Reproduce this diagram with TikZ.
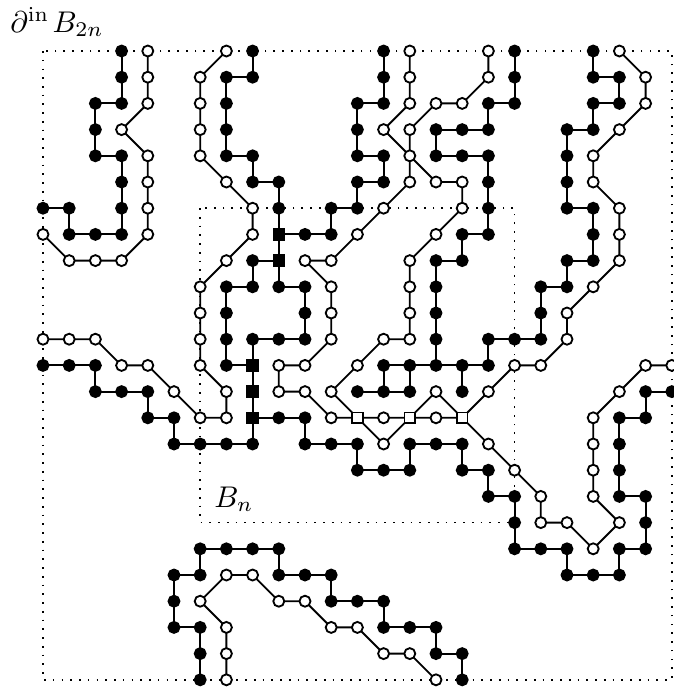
\documentclass[tikz,border=0pt]{standalone}
\begin{document}
\begin{tikzpicture}[x=1cm,y=1cm,
  conn/.style={line width=2pt},
  dotbox/.style={line width=1.8pt, dash pattern=on 1.8pt off 7.7pt},
  bk/.style={circle, draw=black, fill=black, line width=2pt, inner sep=0pt, minimum size=0.42cm},
  wh/.style={circle, draw=black, fill=white, line width=2pt, inner sep=0pt, minimum size=0.42cm},
  bksq/.style={rectangle, draw=black, fill=black, line width=2pt, inner sep=0pt, minimum size=0.4cm},
  whsq/.style={rectangle, draw=black, fill=white, line width=2pt, inner sep=0pt, minimum size=0.4cm},
  lab/.style={inner sep=0pt, scale=3.25}]
\useasboundingbox (-1.641,1.947) rectangle (24.046,-24.389);
\foreach \i in {0,...,24}{\foreach \j in {0,...,24}{\coordinate (p\i-\j) at (\i,-\j);}}
% boxes
\draw[dotbox] (p0-0) rectangle (p24-24);
\draw[dotbox] (p6-6) rectangle (p18-18);
\node[lab, anchor=base west] (outerlab) at (-1.27,0.72) {$\partial^{\mathrm{in}}\mkern2mu B_{2n}$};
\node[lab, anchor=base west] (innerlab) at (6.52,-17.42) {$B_n$};
% black paths
\draw[conn] (p3-0)--(p3-1)--(p3-2)--(p2-2)--(p2-3)--(p2-4)--(p3-4)--(p3-5)--(p3-6)--(p3-7)--(p2-7)--(p1-7)--(p1-6)--(p0-6);
\draw[conn] (p8-0)--(p8-1)--(p7-1)--(p7-2)--(p7-3)--(p7-4)--(p8-4)--(p8-5)--(p9-5)--(p9-6)--(p9-7)--(p9-8)--(p8-8)--(p8-9)--(p7-9)--(p7-10)--(p7-11)--(p7-12)--(p8-12)--(p8-13)--(p8-14)--(p8-15)--(p7-15)--(p6-15)--(p5-15)--(p5-14)--(p4-14)--(p4-13)--(p3-13)--(p2-13)--(p2-12)--(p1-12)--(p0-12);
\draw[conn] (p13-0)--(p13-1)--(p13-2)--(p12-2)--(p12-3)--(p12-4)--(p13-4)--(p13-5)--(p12-5)--(p12-6)--(p11-6)--(p11-7)--(p10-7)--(p9-7);
\draw[conn] (p9-8)--(p9-9)--(p10-9)--(p10-10)--(p10-11)--(p9-11)--(p8-11)--(p8-12);
\draw[conn] (p8-14)--(p9-14)--(p10-14)--(p10-15)--(p11-15)--(p12-15)--(p12-16)--(p13-16)--(p14-16)--(p14-15)--(p15-15)--(p16-15)--(p16-16)--(p17-16)--(p17-17)--(p18-17)--(p18-18)--(p18-19)--(p19-19)--(p20-19)--(p20-20)--(p21-20)--(p22-20)--(p22-19)--(p23-19)--(p23-18)--(p23-17)--(p22-17)--(p22-16)--(p22-15)--(p22-14)--(p23-14)--(p23-13)--(p24-13);
\draw[conn] (p18-0)--(p18-1)--(p18-2)--(p17-2)--(p17-3)--(p16-3)--(p15-3)--(p15-4)--(p16-4)--(p17-4)--(p17-5)--(p17-6)--(p17-7)--(p16-7)--(p16-8)--(p15-8)--(p15-9)--(p15-10)--(p15-11)--(p15-12)--(p14-12)--(p13-12)--(p13-13)--(p12-13);
\draw[conn] (p14-12)--(p14-13)--(p13-13);
\draw[conn] (p16-13)--(p16-12)--(p15-12);
\draw[conn] (p16-12)--(p17-12)--(p17-11)--(p18-11)--(p19-11)--(p19-10)--(p19-9)--(p20-9)--(p20-8)--(p21-8)--(p21-7)--(p21-6)--(p20-6)--(p20-5)--(p20-4)--(p20-3)--(p21-3)--(p21-2)--(p22-2)--(p22-1)--(p21-1)--(p21-0);
\draw[conn] (p6-24)--(p6-23)--(p6-22)--(p5-22)--(p5-21)--(p5-20)--(p6-20)--(p6-19)--(p7-19)--(p8-19)--(p9-19)--(p9-20)--(p10-20)--(p11-20)--(p11-21)--(p12-21)--(p13-21)--(p13-22)--(p14-22)--(p15-22)--(p15-23)--(p16-23)--(p16-24);
% white paths
\draw[conn] (p4-0)--(p4-1)--(p4-2)--(p3-3)--(p4-4)--(p4-5)--(p4-6)--(p4-7)--(p3-8)--(p2-8)--(p1-8)--(p0-7);
\draw[conn] (p7-0)--(p6-1)--(p6-2)--(p6-3)--(p6-4)--(p7-5)--(p8-6)--(p8-7)--(p7-8)--(p6-9)--(p6-10)--(p6-11)--(p6-12)--(p7-13)--(p7-14)--(p6-14)--(p5-13)--(p4-12)--(p3-12)--(p2-11)--(p1-11)--(p0-11);
\draw[conn] (p14-0)--(p14-1)--(p14-2)--(p13-3)--(p14-4)--(p14-5)--(p13-6)--(p12-7)--(p11-8)--(p10-8)--(p11-9)--(p11-10)--(p11-11)--(p10-12)--(p9-12)--(p9-13)--(p10-13)--(p11-14)--(p12-14)--(p13-14)--(p14-14)--(p15-14)--(p16-14)--(p17-15)--(p18-16)--(p19-17)--(p19-18)--(p20-18)--(p21-19)--(p22-18)--(p21-17)--(p21-16)--(p21-15)--(p21-14)--(p22-13)--(p23-12)--(p24-12);
\draw[conn] (p17-0)--(p17-1)--(p16-2)--(p15-2)--(p14-3)--(p14-4)--(p15-5)--(p16-5)--(p16-6)--(p15-7)--(p14-8)--(p14-9)--(p14-10)--(p14-11)--(p13-11)--(p12-12)--(p11-13)--(p12-14)--(p13-15)--(p14-14)--(p15-13)--(p16-14)--(p17-13)--(p18-12)--(p19-12)--(p20-11)--(p20-10)--(p21-9)--(p22-8)--(p22-7)--(p22-6)--(p21-5)--(p21-4)--(p22-3)--(p23-2)--(p23-1)--(p22-0);
\draw[conn] (p7-24)--(p7-23)--(p7-22)--(p6-21)--(p7-20)--(p8-20)--(p9-21)--(p10-21)--(p11-22)--(p12-22)--(p13-23)--(p14-23)--(p15-24);
% black nodes
\foreach \x/\y in {3/0,3/1,3/2,2/2,2/3,2/4,3/4,3/5,3/6,3/7,2/7,1/7,1/6,0/6,
  8/0,8/1,7/1,7/2,7/3,7/4,8/4,8/5,9/5,9/6,8/8,8/9,7/9,7/10,7/11,7/12,8/15,7/15,6/15,5/15,5/14,4/14,4/13,3/13,2/13,2/12,1/12,0/12,
  13/0,13/1,13/2,12/2,12/3,12/4,13/4,13/5,12/5,12/6,11/6,11/7,10/7,
  9/9,10/9,10/10,10/11,9/11,8/11,
  9/14,10/14,10/15,11/15,12/15,12/16,13/16,14/16,14/15,15/15,16/15,16/16,17/16,17/17,18/17,18/18,18/19,19/19,20/19,20/20,21/20,22/20,22/19,23/19,23/18,23/17,22/17,22/16,22/15,22/14,23/14,23/13,24/13,
  18/0,18/1,18/2,17/2,17/3,16/3,15/3,15/4,16/4,17/4,17/5,17/6,17/7,16/7,16/8,15/8,15/9,15/10,15/11,15/12,14/12,13/12,13/13,12/13,14/13,16/13,16/12,17/12,17/11,18/11,19/11,19/10,19/9,20/9,20/8,21/8,21/7,21/6,20/6,20/5,20/4,20/3,21/3,21/2,22/2,22/1,21/1,21/0,
  6/24,6/23,6/22,5/22,5/21,5/20,6/20,6/19,7/19,8/19,9/19,9/20,10/20,11/20,11/21,12/21,13/21,13/22,14/22,15/22,15/23,16/23,16/24}
  {\node[bk] (n\x-\y) at (p\x-\y) {};}
\foreach \x/\y in {9/7,9/8,8/12,8/13,8/14}
  {\node[bksq] (n\x-\y) at (p\x-\y) {};}
% white nodes
\foreach \x/\y in {4/0,4/1,4/2,3/3,4/4,4/5,4/6,4/7,3/8,2/8,1/8,0/7,
  7/0,6/1,6/2,6/3,6/4,7/5,8/6,8/7,7/8,6/9,6/10,6/11,6/12,7/13,7/14,6/14,5/13,4/12,3/12,2/11,1/11,0/11,
  14/0,14/1,14/2,13/3,14/4,14/5,13/6,12/7,11/8,10/8,11/9,11/10,11/11,10/12,9/12,9/13,10/13,11/14,13/14,15/14,17/15,18/16,19/17,19/18,20/18,21/19,22/18,21/17,21/16,21/15,21/14,22/13,23/12,24/12,
  17/0,17/1,16/2,15/2,14/3,15/5,16/5,16/6,15/7,14/8,14/9,14/10,14/11,13/11,12/12,11/13,13/15,15/13,17/13,18/12,19/12,20/11,20/10,21/9,22/8,22/7,22/6,21/5,21/4,22/3,23/2,23/1,22/0,
  7/24,7/23,7/22,6/21,7/20,8/20,9/21,10/21,11/22,12/22,13/23,14/23,15/24}
  {\node[wh] (n\x-\y) at (p\x-\y) {};}
\foreach \x/\y in {12/14,14/14,16/14}
  {\node[whsq] (n\x-\y) at (p\x-\y) {};}
\end{tikzpicture}
\end{document}
